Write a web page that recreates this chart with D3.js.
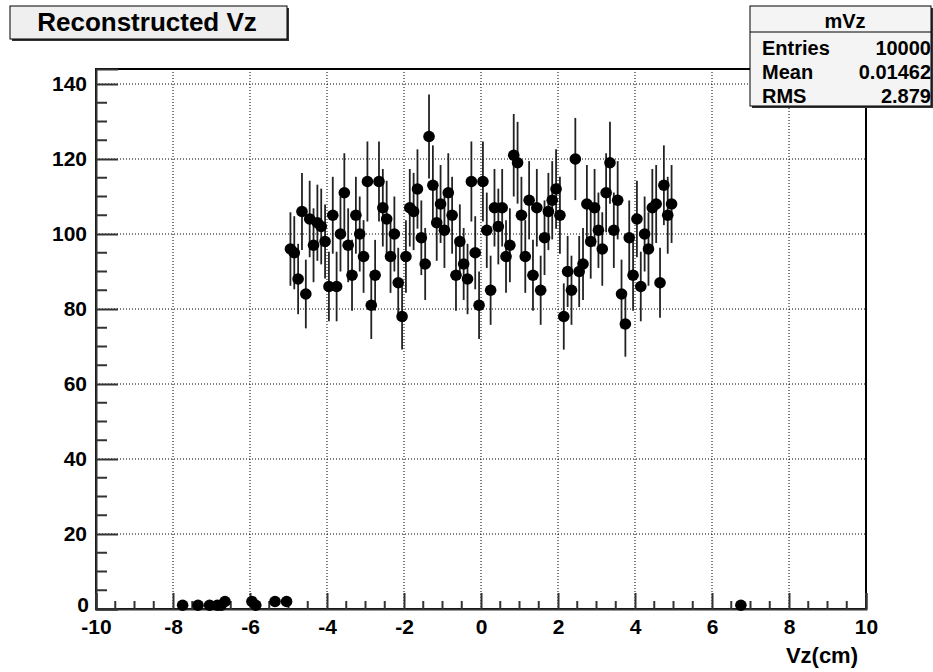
<!DOCTYPE html>
<html>
<head>
<meta charset="utf-8">
<script src="https://cdn.jsdelivr.net/npm/d3@7"></script>
<style>
  body { margin: 0; background: #ffffff; }
  text { font-family: "Liberation Sans", Arial, Helvetica, sans-serif; font-weight: bold; }
</style>
</head>
<body>
<div id="chart"></div>
<script>
// histogram mVz : 200 bins from -10 to 10, only filled bins are listed
const binWidth = 0.1;
const mainStart = -5;   // first bin of the central block
const mainCounts = [
    96, 95, 88, 106, 84, 104, 97, 103, 102, 98,
    86, 105, 86, 100, 111, 97, 89, 105, 100, 94,
    114, 81, 89, 114, 107, 104, 94, 100, 87, 78,
    94, 107, 106, 112, 99, 92, 126, 113, 103, 108,
    101, 111, 105, 89, 98, 92, 88, 114, 95, 81,
    114, 101, 85, 107, 102, 107, 94, 97, 121, 119,
    105, 94, 109, 89, 107, 85, 99, 106, 109, 112,
    105, 78, 90, 85, 120, 90, 92, 108, 98, 107,
    101, 96, 111, 119, 101, 109, 84, 76, 99, 89,
    104, 86, 100, 96, 107, 108, 87, 113, 105, 108
];
// stray bins outside the central block
const strayCenters = [-7.75, -7.35, -7.05, -6.85, -6.75, -6.65, -5.95, -5.85, -5.35, -5.05, 6.75];
const strayCounts  = [1, 1, 1, 1, 1, 2, 2, 1, 2, 2, 1];

const xMajor = [-10, -8, -6, -4, -2, 0, 2, 4, 6, 8, 10];
const yMajor = [0, 20, 40, 60, 80, 100, 120, 140];

const titleText = "Reconstructed Vz";
const xTitle = "Vz(cm)";
const statsName = "mVz";
const statsLabels = ["Entries", "Mean", "RMS"];
const statsValues = ["10000", "0.01462", "2.879"];

function main() {
    var data = [];
    mainCounts.forEach(function(c, i) {
        data.push({x: mainStart + (i + 0.5) * binWidth, n: c});
    });
    strayCenters.forEach(function(c, i) {
        data.push({x: c, n: strayCounts[i]});
    });
    drawHist(data);
}

function drawHist(data) {
    const W = 933, H = 672;
    const left = 96, right = 866, top = 69, bottom = 609;

    const svg = d3.select("#chart").append("svg")
        .attr("width", W)
        .attr("height", H);

    const xScale = d3.scaleLinear().domain([-10, 10]).range([left, right]);
    const yScale = d3.scaleLinear().domain([0, 144]).range([bottom, top]);

    // grid (dotted)
    svg.append("g").selectAll("line.vgrid")
        .data(xMajor.filter(function(v) { return v > -10 && v < 10; }))
        .enter().append("line")
        .attr("x1", function(d) { return xScale(d); })
        .attr("x2", function(d) { return xScale(d); })
        .attr("y1", top).attr("y2", bottom)
        .attr("stroke", "#000").attr("stroke-width", 1)
        .attr("stroke-dasharray", "1,2");
    svg.append("g").selectAll("line.hgrid")
        .data(yMajor.filter(function(v) { return v > 0; }))
        .enter().append("line")
        .attr("x1", left).attr("x2", right)
        .attr("y1", function(d) { return yScale(d); })
        .attr("y2", function(d) { return yScale(d); })
        .attr("stroke", "#000").attr("stroke-width", 1)
        .attr("stroke-dasharray", "1,2");

    // frame
    svg.append("rect")
        .attr("x", left).attr("y", top)
        .attr("width", right - left).attr("height", bottom - top)
        .attr("fill", "none").attr("stroke", "#000").attr("stroke-width", 2);

    // minor ticks
    const xMinor = d3.range(-10, 10.001, 0.5).filter(function(v) { return Math.abs(v / 2 - Math.round(v / 2)) > 0.01; });
    svg.append("g").selectAll("line")
        .data(xMinor).enter().append("line")
        .attr("x1", function(d) { return xScale(d); })
        .attr("x2", function(d) { return xScale(d); })
        .attr("y1", bottom).attr("y2", bottom - 8)
        .attr("stroke", "#333").attr("stroke-width", 2);
    const yMinor = d3.range(0, 144, 5).filter(function(v) { return v % 20 != 0; });
    svg.append("g").selectAll("line")
        .data(yMinor).enter().append("line")
        .attr("x1", left).attr("x2", left + 11)
        .attr("y1", function(d) { return yScale(d); })
        .attr("y2", function(d) { return yScale(d); })
        .attr("stroke", "#333").attr("stroke-width", 2);

    // axes (plain hyphen for negatives, like the original)
    const fmt = function(d) { return String(d); };
    const xAxis = svg.append("g")
        .attr("transform", `translate(0, ${bottom})`)
        .call(d3.axisBottom(xScale).tickValues(xMajor).tickSize(-16).tickPadding(10).tickFormat(fmt));
    const yAxis = svg.append("g")
        .attr("transform", `translate(${left}, 0)`)
        .call(d3.axisLeft(yScale).tickValues(yMajor).tickSize(-22).tickPadding(9).tickFormat(fmt));
    [xAxis, yAxis].forEach(function(ax) {
        ax.select(".domain").attr("stroke", "#333").attr("stroke-width", 2);
        ax.selectAll(".tick line").attr("stroke", "#333").attr("stroke-width", 2);
        ax.selectAll(".tick text")
            .attr("fill", "#000")
            .style("font-size", "21px")
            .style("font-family", "'Liberation Sans', Arial, sans-serif")
            .style("font-weight", "bold");
    });
    // lift the "0" of the y axis a little so it clears "-10"
    yAxis.selectAll(".tick text")
        .filter(function(d) { return d === 0; })
        .attr("transform", "translate(2, -4)");

    // x axis title
    svg.append("text")
        .attr("x", 858).attr("y", 663)
        .attr("text-anchor", "end")
        .style("font-size", "22px")
        .text(xTitle);

    // error bars (sqrt N)
    svg.append("g").selectAll("line")
        .data(data).enter().append("line")
        .attr("x1", function(d) { return xScale(d.x); })
        .attr("x2", function(d) { return xScale(d.x); })
        .attr("y1", function(d) { return yScale(d.n - Math.sqrt(d.n)); })
        .attr("y2", function(d) { return yScale(d.n + Math.sqrt(d.n)); })
        .attr("stroke", "#222").attr("stroke-width", 1.8);

    // markers
    svg.append("g").selectAll("circle")
        .data(data).enter().append("circle")
        .attr("cx", function(d) { return xScale(d.x); })
        .attr("cy", function(d) { return yScale(d.n); })
        .attr("r", 5.8)
        .attr("fill", "#000");

    // title box with shadow
    svg.append("rect").attr("x", 12).attr("y", 8).attr("width", 277).attr("height", 33).attr("fill", "#333");
    svg.append("rect").attr("x", 10).attr("y", 6).attr("width", 277).attr("height", 33)
        .attr("fill", "#efefef").attr("stroke", "#000").attr("stroke-width", 1);
    svg.append("text")
        .attr("x", 147).attr("y", 31)
        .attr("text-anchor", "middle")
        .style("font-size", "26px")
        .text(titleText);

    // stats box
    const sx = 750, sy = 6, sw = 181, sh = 100;
    svg.append("rect").attr("x", sx + 2).attr("y", sy + 2).attr("width", sw).attr("height", sh).attr("fill", "#333");
    svg.append("rect").attr("x", sx).attr("y", sy).attr("width", sw).attr("height", sh)
        .attr("fill", "#f4f4f4").attr("stroke", "#000").attr("stroke-width", 1);
    svg.append("line").attr("x1", sx).attr("x2", sx + sw).attr("y1", 32).attr("y2", 32)
        .attr("stroke", "#000").attr("stroke-width", 1);
    svg.append("text")
        .attr("x", 845).attr("y", 28)
        .attr("text-anchor", "middle")
        .style("font-size", "20px")
        .text(statsName);
    const rowY = [55, 79, 103];
    statsLabels.forEach(function(lab, i) {
        svg.append("text").attr("x", 762).attr("y", rowY[i])
            .style("font-size", "20px").text(lab);
        svg.append("text").attr("x", 931).attr("y", rowY[i])
            .attr("text-anchor", "end")
            .style("font-size", "20px").text(statsValues[i]);
    });
}

main();
</script>
</body>
</html>
